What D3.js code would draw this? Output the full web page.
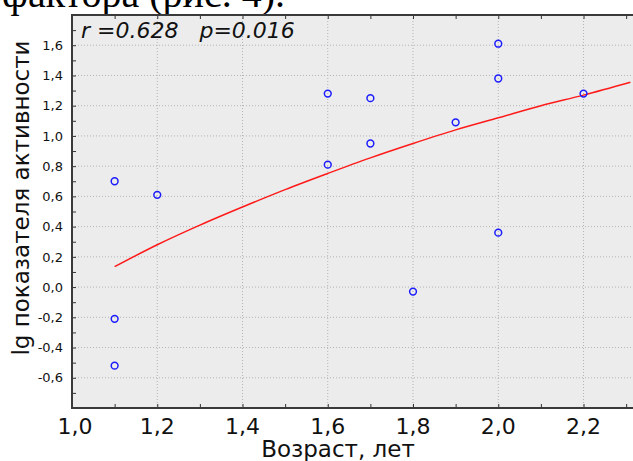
<!DOCTYPE html>
<html>
<head>
<meta charset="utf-8">
<script src="https://cdn.jsdelivr.net/npm/d3@7"></script>
<style>
    body { margin: 0; background: #fff; overflow: hidden; }
</style>
</head>
<body>
<div id="chart"></div>
<script>
// scatter points
const ageX = [1.1, 1.1, 1.1, 1.2, 1.6, 1.6, 1.7, 1.7, 1.8, 1.9, 2.0, 2.0, 2.0, 2.2];
const lgY = [0.70, -0.21, -0.52, 0.61, 1.28, 0.81, 1.25, 0.95, -0.03, 1.09, 1.61, 1.38, 0.36, 1.28];

// red fitted curve, read at a few x positions
const fitX = [1.1, 1.2, 1.3, 1.4, 1.5, 1.6, 1.7, 1.8, 1.9, 2.0, 2.1, 2.2, 2.31];
const fitY = [0.135, 0.28, 0.41, 0.53, 0.645, 0.752, 0.855, 0.95, 1.04, 1.12, 1.20, 1.27, 1.355];

const xTicks = [1.0, 1.2, 1.4, 1.6, 1.8, 2.0, 2.2];
const yTicks = [-0.6, -0.4, -0.2, 0.0, 0.2, 0.4, 0.6, 0.8, 1.0, 1.2, 1.4, 1.6];
const xMinor = [1.1, 1.3, 1.5, 1.7, 1.9, 2.1, 2.3];
const yMinor = [-0.7, -0.5, -0.3, -0.1, 0.1, 0.3, 0.5, 0.7, 0.9, 1.1, 1.3, 1.5, 1.7];

const statText = "r =0.628   p=0.016";
const xTitle = "Возраст, лет";
const yTitle = "lg показателя активности";
const pageText = "фактора (рис. 4).";

const width = 633;
const height = 461;
const plot = { left: 72, top: 15, right: 640, bottom: 408 };

let svg = d3
    .select("#chart")
    .append("svg")
    .attr("width", width)
    .attr("height", height)
    .style("display", "block");

// scales
let x = d3.scaleLinear().domain([1.0, 2.3325]).range([plot.left, plot.right]);
let y = d3.scaleLinear().domain([-0.8, 1.8]).range([plot.bottom, plot.top]);

// cut-off line of document text above the chart
svg.append("text")
    .attr("x", 2)
    .attr("y", 7)
    .text(pageText)
    .style("font-family", "'Liberation Serif', 'Times New Roman', serif")
    .style("font-size", "40px")
    .style("fill", "#000");

// plot background
svg.append("rect")
    .attr("x", plot.left)
    .attr("y", plot.top)
    .attr("width", plot.right - plot.left)
    .attr("height", plot.bottom - plot.top)
    .style("fill", "#ececec");

// dotted grid
let grid = svg.append("g").attr("class", "grid");
grid.selectAll(".gx")
    .data(xTicks.slice(1))
    .enter()
    .append("line")
    .attr("x1", d => x(d))
    .attr("x2", d => x(d))
    .attr("y1", plot.top)
    .attr("y2", plot.bottom)
    .style("stroke", "#b4b4b4")
    .style("stroke-dasharray", "1,2");
grid.selectAll(".gy")
    .data(yTicks)
    .enter()
    .append("line")
    .attr("x1", plot.left)
    .attr("x2", plot.right)
    .attr("y1", d => y(d))
    .attr("y2", d => y(d))
    .style("stroke", "#b4b4b4")
    .style("stroke-dasharray", "1,2");

// axes with inner ticks (major + minor)
let allX = xTicks.concat(xMinor);
let allY = yTicks.concat(yMinor);
svg.append("g")
    .attr("transform", `translate(0,${plot.bottom})`)
    .call(d3.axisTop(x).tickValues(allX).tickSize(4).tickFormat(""))
    .call(g => g.select(".domain").remove())
    .selectAll("line").style("stroke", "#333");
svg.append("g")
    .attr("transform", `translate(0,${plot.top})`)
    .call(d3.axisBottom(x).tickValues(allX).tickSize(4).tickFormat(""))
    .call(g => g.select(".domain").remove())
    .selectAll("line").style("stroke", "#333");
svg.append("g")
    .attr("transform", `translate(${plot.left},0)`)
    .call(d3.axisRight(y).tickValues(allY).tickSize(4).tickFormat(""))
    .call(g => g.select(".domain").remove())
    .selectAll("line").style("stroke", "#333");

// frame
svg.append("rect")
    .attr("x", plot.left)
    .attr("y", plot.top)
    .attr("width", plot.right - plot.left)
    .attr("height", plot.bottom - plot.top)
    .style("fill", "none")
    .style("stroke", "#3a3a3a")
    .style("stroke-width", 2);

// tick labels
const commaFmt = d => d3.format(".1f")(d).replace(".", ",").replace("−", "-");
svg.append("g")
    .selectAll("text")
    .data(xTicks)
    .enter()
    .append("text")
    .attr("x", (d, i) => x(d) + (i === 0 ? 3 : 0))
    .attr("y", 434)
    .attr("text-anchor", "middle")
    .text(commaFmt)
    .style("font-family", "'DejaVu Sans', sans-serif")
    .style("font-size", "22px")
    .style("fill", "#111");
svg.append("g")
    .selectAll("text")
    .data(yTicks)
    .enter()
    .append("text")
    .attr("x", 63)
    .attr("y", d => y(d))
    .attr("dy", "0.36em")
    .attr("text-anchor", "end")
    .text(commaFmt)
    .style("font-family", "'DejaVu Sans', sans-serif")
    .style("font-size", "13px")
    .style("fill", "#111");

// axis titles
svg.append("text")
    .attr("x", 338)
    .attr("y", 457)
    .attr("text-anchor", "middle")
    .text(xTitle)
    .style("font-family", "'DejaVu Sans', sans-serif")
    .style("font-size", "23px")
    .style("fill", "#111");
svg.append("text")
    .attr("transform", "translate(29,198) rotate(-90)")
    .attr("text-anchor", "middle")
    .text(yTitle)
    .style("font-family", "'DejaVu Sans', sans-serif")
    .style("font-size", "23px")
    .style("fill", "#111");

// fitted curve
let line = d3.line()
    .x((d, i) => x(fitX[i]))
    .y(d => y(d))
    .curve(d3.curveMonotoneX);
svg.append("path")
    .datum(fitY)
    .attr("d", line)
    .style("fill", "none")
    .style("stroke", "#ff1a1a")
    .style("stroke-width", 1.5);

// points
svg.append("g")
    .selectAll("circle")
    .data(lgY)
    .enter()
    .append("circle")
    .attr("cx", (d, i) => x(ageX[i]))
    .attr("cy", d => y(d))
    .attr("r", 3.4)
    .style("fill", "none")
    .style("stroke", "#1c1cff")
    .style("stroke-width", 1.5);

// correlation stats in the corner
svg.append("text")
    .attr("x", 81)
    .attr("y", 38)
    .text(statText)
    .style("font-family", "'DejaVu Sans', sans-serif")
    .style("font-style", "italic")
    .style("font-size", "22px")
    .style("white-space", "pre")
    .attr("xml:space", "preserve")
    .style("fill", "#111");
</script>
</body>
</html>
